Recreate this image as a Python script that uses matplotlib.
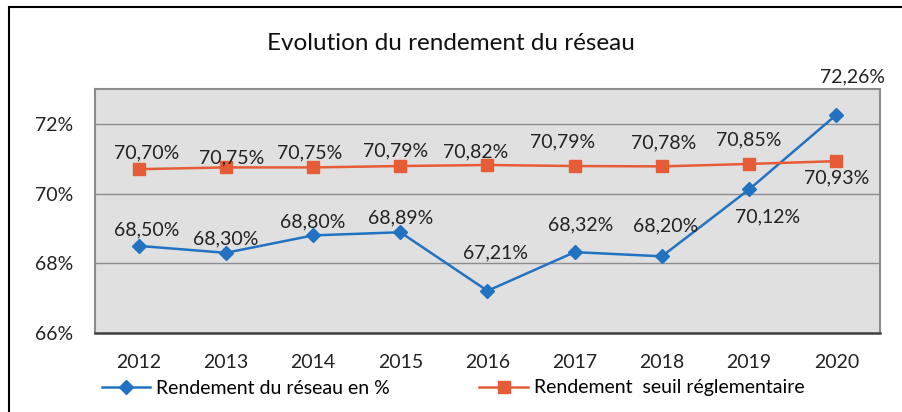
import matplotlib
matplotlib.use("Agg")
import matplotlib.pyplot as plt
from matplotlib.patches import Rectangle
from matplotlib.ticker import FuncFormatter

plt.rcParams['font.family'] = ['Lato', 'DejaVu Sans']

years = ['2012', '2013', '2014', '2015', '2016', '2017', '2018', '2019', '2020']
rendement = [68.50, 68.30, 68.80, 68.89, 67.21, 68.32, 68.20, 70.12, 72.26]
seuil = [70.70, 70.75, 70.75, 70.79, 70.82, 70.79, 70.78, 70.85, 70.93]

# label offsets in pixels (dx, dy)
off_rend = [(8, 16), (0, 14), (0, 14), (0, 14), (8, 38), (6, 27), (4, 30), (18, -27), (16, 38)]
off_seuil = [(8, 16), (6, 10), (-3, 15), (-5, 15), (-12, 13), (-12, 24), (2, 24), (0, 24), (0, -17)]

blue = '#2272C2'
orange = '#E65C36'

fig = plt.figure(figsize=(9.03, 4.12), dpi=100)
ax = fig.add_axes([95 / 903, 1 - 333 / 412, 785 / 903, 244 / 412])
ax.set_facecolor('#E0E0E0')

x = list(range(len(years)))
ax.plot(x, rendement, color=blue, lw=1.8, marker='D', ms=7.5,
        label='Rendement du réseau en %', zorder=3)
ax.plot(x, seuil, color=orange, lw=1.8, marker='s', ms=8,
        label='Rendement  seuil réglementaire', zorder=3)

for i in x:
    ax.annotate(f'{rendement[i]:.2f}%'.replace('.', ','), (i, rendement[i]),
                xytext=off_rend[i], textcoords='offset pixels',
                ha='center', va='center', fontsize=14, color='#222222',
                annotation_clip=False)
    ax.annotate(f'{seuil[i]:.2f}%'.replace('.', ','), (i, seuil[i]),
                xytext=off_seuil[i], textcoords='offset pixels',
                ha='center', va='center', fontsize=14, color='#222222',
                annotation_clip=False)

ax.set_xlim(-0.5, 8.5)
ax.set_ylim(66, 73)
ax.set_xticks(x)
ax.set_xticklabels(years)
ax.set_yticks([66, 68, 70, 72])
ax.yaxis.set_major_formatter(FuncFormatter(lambda v, p: f'{v:.0f}%'))
ax.tick_params(length=0, labelsize=14, colors='#222222')
ax.tick_params(axis='x', pad=15)
ax.tick_params(axis='y', pad=16)
ax.grid(axis='y', color='#8C8C8C', lw=1)
ax.set_axisbelow(True)
for s in ['top', 'right', 'left']:
    ax.spines[s].set_color('#8C8C8C')
    ax.spines[s].set_linewidth(1.5)
ax.spines['bottom'].set_color('#404040')
ax.spines['bottom'].set_linewidth(1.8)

fig.text(451 / 903, 1 - 43 / 412, 'Evolution du rendement du réseau',
         ha='center', va='center', fontsize=17.5, color='#111111')

fig.legend(loc='center', bbox_to_anchor=(453 / 903, 1 - 388 / 412), ncol=2,
           frameon=False, fontsize=14, columnspacing=4.6, handlelength=2.5,
           handletextpad=0.3)

fig.patches.append(Rectangle((9 / 903, -0.1), 1.2, 1 - 7 / 412 + 0.1,
                             transform=fig.transFigure, fill=False,
                             edgecolor='black', lw=1.5))

fig.savefig('out.png', dpi=100)
